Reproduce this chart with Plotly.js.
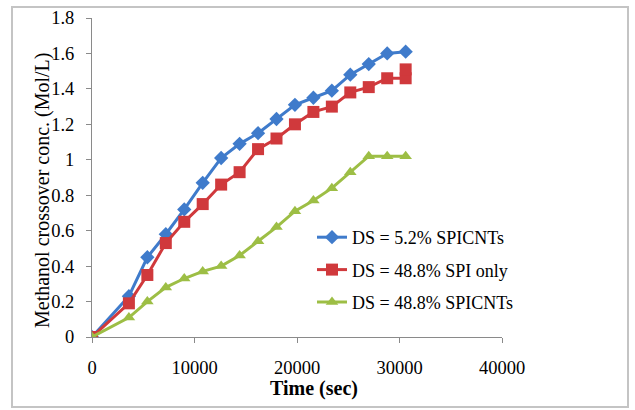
<!DOCTYPE html>
<html>
<head>
<meta charset="utf-8">
<script src="https://cdn.plot.ly/plotly-3.0.1.min.js"></script>
<style>
html,body{margin:0;padding:0;background:#fff;}
#chart{width:635px;height:410px;}
</style>
</head>
<body>
<div id="chart"></div>
<script>
var timeSec = [0, 3600, 5400, 7200, 9000, 10800, 12600, 14400, 16200, 18000, 19800, 21600, 23400, 25200, 27000, 28800, 30600];
var timeSecRed = [0, 3600, 5400, 7200, 9000, 10800, 12600, 14400, 16200, 18000, 19800, 21600, 23400, 25200, 27000, 28800, 30600, 30600];
var ds52SPICNTs = [0, 0.23, 0.45, 0.58, 0.72, 0.87, 1.01, 1.09, 1.15, 1.23, 1.31, 1.35, 1.39, 1.48, 1.54, 1.60, 1.61];
var ds488SPIonly = [0, 0.19, 0.35, 0.53, 0.65, 0.75, 0.86, 0.93, 1.06, 1.12, 1.20, 1.27, 1.30, 1.38, 1.41, 1.46, 1.46, 1.51];
var ds488SPICNTs = [0, 0.11, 0.20, 0.28, 0.33, 0.37, 0.40, 0.46, 0.54, 0.62, 0.71, 0.77, 0.84, 0.93, 1.02, 1.02, 1.02];
var seriesNames = ['DS = 5.2% SPICNTs', 'DS = 48.8% SPI only', 'DS = 48.8% SPICNTs'];
var xTitle = 'Time (sec)';
var yTitle = 'Methanol crossover conc. (Mol/L)';

var serif = '"Liberation Serif", "Times New Roman", serif';
var blue = '#3F7BCB', red = '#D0393C', green = '#9DBE45';

var traces = [
  {x: timeSec, y: ds52SPICNTs, name: seriesNames[0], legendgroup: 'a', mode: 'lines+markers',
   line: {color: blue, width: 3}, marker: {symbol: 'diamond', size: 11, color: blue}},
  {x: timeSecRed, y: ds488SPIonly, name: seriesNames[1], legendgroup: 'b', mode: 'lines+markers',
   line: {color: red, width: 3}, marker: {symbol: 'square', size: 12, color: red}},
  {x: timeSec, y: ds488SPICNTs, name: seriesNames[2], legendgroup: 'c', mode: 'lines+markers',
   line: {color: green, width: 3}, marker: {symbol: 'triangle-up', size: 11, color: green}}
];

var L = 92, R = 133, T = 18, B = 73;
var W = 635, H = 410;
var pw = W - L - R, ph = H - T - B;
function px(x){ return (x - L) / pw; }
function py(y){ return (H - B - y) / ph; }

var layout = {
  width: W, height: H,
  margin: {l: L, r: R, t: T, b: B},
  paper_bgcolor: '#fff', plot_bgcolor: '#fff',
  font: {family: serif, size: 18, color: '#000'},
  showlegend: true,
  legend: {x: px(312), y: py(219), xanchor: 'left', yanchor: 'top',
           font: {family: serif, size: 18, color: '#000'},
           bgcolor: 'rgba(0,0,0,0)', tracegroupgap: 6, traceorder: 'grouped'},
  xaxis: {range: [0, 40000], dtick: 10000, tick0: 0, tickformat: 'd',
          showgrid: false, zeroline: false, showline: true, linecolor: '#8a8a8a', linewidth: 1,
          ticks: 'outside', ticklen: 5, tickcolor: '#8a8a8a', ticklabelstandoff: 9,
          tickfont: {family: serif, size: 18.5, color: '#000'}},
  yaxis: {range: [0, 1.8], dtick: 0.2, tick0: 0,
          showgrid: false, zeroline: false, showline: true, linecolor: '#8a8a8a', linewidth: 1,
          ticks: 'outside', ticklen: 5, tickcolor: '#8a8a8a', ticklabelstandoff: 8,
          tickfont: {family: serif, size: 18.5, color: '#000'}},
  annotations: [
    {text: '<b>' + xTitle + '</b>', xref: 'paper', yref: 'paper', x: px(313.5), y: py(388),
     xanchor: 'center', yanchor: 'middle', showarrow: false,
     font: {family: serif, size: 20, color: '#000'}},
    {text: yTitle, xref: 'paper', yref: 'paper', x: px(42), y: py(191), textangle: -90,
     xanchor: 'center', yanchor: 'middle', showarrow: false,
     font: {family: serif, size: 20, color: '#000'}}
  ],
  shapes: [
    {type: 'rect', xref: 'paper', yref: 'paper', x0: px(12), x1: px(628), y0: py(407), y1: py(7),
     line: {color: '#c4c4c4', width: 2}, fillcolor: 'rgba(0,0,0,0)', layer: 'below'}
  ]
};

Plotly.newPlot('chart', traces, layout, {displayModeBar: false, staticPlot: true});
</script>
</body>
</html>
